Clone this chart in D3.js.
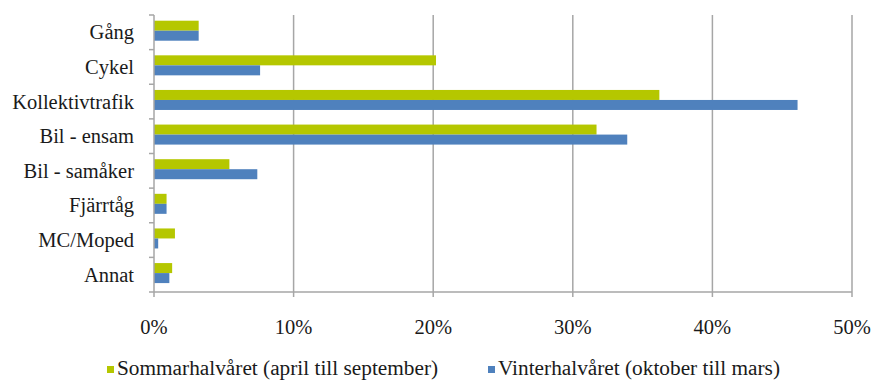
<!DOCTYPE html>
<html><head><meta charset="utf-8"><script src="https://cdn.jsdelivr.net/npm/d3@7"></script></head>
<body style="margin:0">
<script>
const categories = ["Gång", "Cykel", "Kollektivtrafik", "Bil - ensam", "Bil - samåker", "Fjärrtåg", "MC/Moped", "Annat"];
const seriesNames = ["Sommarhalvåret (april till september)", "Vinterhalvåret (oktober till mars)"];
const summer = [3.2, 20.2, 36.2, 31.7, 5.4, 0.9, 1.5, 1.3];
const winter = [3.2, 7.6, 46.1, 33.9, 7.4, 0.9, 0.3, 1.1];
const xTicks = [0, 10, 20, 30, 40, 50];
const colors = ["#b5c700", "#4f81bd"];

const width = 871, height = 380;
const margin = { top: 15, right: 19, bottom: 88, left: 154 };
const serif = '"Liberation Serif", "Times New Roman", Tinos, Times';

const svg = d3.select("body").append("svg")
  .attr("width", width)
  .attr("height", height);

const x = d3.scaleLinear().domain([0, 50]).range([margin.left, width - margin.right]);
const y = d3.scaleBand().domain(categories).range([margin.top, height - margin.bottom]);
const ySub = d3.scaleBand().domain([0, 1]).range([0, y.bandwidth()]).paddingOuter(0.73).align(0.39);

// gridlines
svg.append("g")
  .selectAll("line")
  .data(xTicks.slice(1))
  .join("line")
  .attr("x1", d => x(d)).attr("x2", d => x(d))
  .attr("y1", margin.top).attr("y2", height - margin.bottom)
  .attr("stroke", "#a6a6a6")
  .attr("stroke-width", 1.5);

// bars
const rows = categories.map((c, i) => ({ cat: c, vals: [summer[i], winter[i]] }));
svg.append("g")
  .selectAll("g")
  .data(rows)
  .join("g")
  .attr("transform", d => `translate(0, ${y(d.cat)})`)
  .selectAll("rect")
  .data(d => d.vals)
  .join("rect")
  .attr("x", x(0))
  .attr("y", (d, i) => ySub(i))
  .attr("width", d => x(d) - x(0))
  .attr("height", ySub.bandwidth())
  .attr("fill", (d, i) => colors[i]);

// y axis
const yAxis = svg.append("g")
  .attr("transform", `translate(${x(0)}, 0)`);
yAxis.append("line")
  .attr("y1", margin.top).attr("y2", height - margin.bottom)
  .attr("stroke", "#a6a6a6").attr("stroke-width", 1.5);
yAxis.selectAll(".tk")
  .data(d3.range(categories.length + 1))
  .join("line")
  .attr("class", "tk")
  .attr("x1", -5).attr("x2", 0)
  .attr("y1", i => margin.top + i * y.step())
  .attr("y2", i => margin.top + i * y.step())
  .attr("stroke", "#a6a6a6").attr("stroke-width", 1.5);
yAxis.selectAll("text")
  .data(categories)
  .join("text")
  .attr("x", -20)
  .attr("y", d => y(d) + y.bandwidth() / 2 + 7)
  .attr("text-anchor", "end")
  .text(d => d);

// x axis
const xAxis = svg.append("g")
  .attr("transform", `translate(0, ${height - margin.bottom})`);
xAxis.append("line")
  .attr("x1", x(0)).attr("x2", x(50))
  .attr("stroke", "#a6a6a6").attr("stroke-width", 1.5);
xAxis.selectAll(".tk")
  .data(xTicks)
  .join("line")
  .attr("class", "tk")
  .attr("x1", d => x(d)).attr("x2", d => x(d))
  .attr("y1", 0).attr("y2", 5)
  .attr("stroke", "#a6a6a6").attr("stroke-width", 1.5);
xAxis.selectAll("text")
  .data(xTicks)
  .join("text")
  .attr("x", d => x(d))
  .attr("y", 42)
  .attr("text-anchor", "middle")
  .text(d => d + "%");

// all text so far: serif like the original
svg.selectAll("text")
  .attr("font-family", serif)
  .style("font-family", serif)
  .attr("font-size", 20.5)
  .attr("fill", "#1a1a1a");

// legend
const legendX = [107, 488];
const legend = svg.append("g")
  .selectAll("g")
  .data(seriesNames)
  .join("g")
  .attr("transform", (d, i) => `translate(${legendX[i]}, 369)`);
legend.append("rect")
  .attr("x", 0).attr("y", -3)
  .attr("width", 7).attr("height", 7)
  .attr("fill", (d, i) => colors[i]);
legend.append("text")
  .attr("x", 10)
  .attr("y", 6)
  .attr("font-family", serif)
  .style("font-family", serif)
  .attr("font-size", 21.3)
  .attr("fill", "#1a1a1a")
  .text(d => d);
</script>
</body>
</html>
